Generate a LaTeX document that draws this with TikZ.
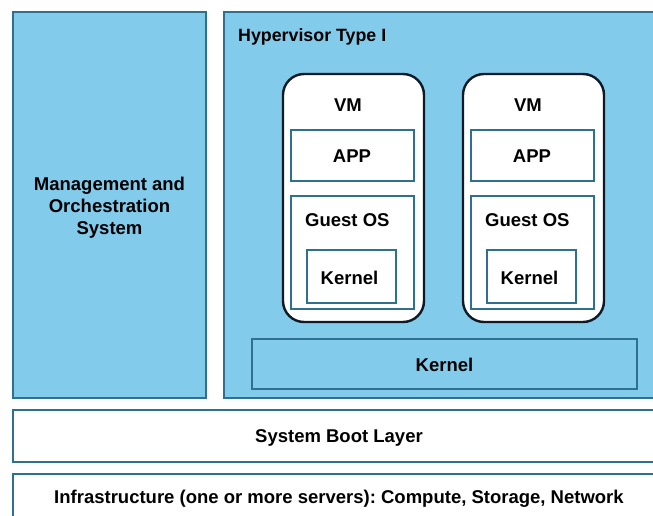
\documentclass[tikz,border=0pt]{standalone}
\usepackage{fontspec}
\setmainfont{Liberation Sans}
\frenchspacing
\begin{document}
\begin{tikzpicture}[x=1pt,y=-1pt,
  every node/.style={font=\bfseries\fontsize{18.5}{22}\selectfont, text=black, inner sep=0pt},
  layer/.style={draw=edgeblue, line width=1.3pt},
  bluebox/.style={layer, fill=skyfill},
  whitebox/.style={layer, fill=white},
  vmbox/.style={draw=vmedge, line width=2.4pt, fill=white, rounded corners=21pt},
  innerbox/.style={draw=edgeblue, line width=1.1pt, fill=white},
]
\definecolor{skyfill}{HTML}{83CBEB}
\definecolor{edgeblue}{HTML}{2F6F8F}
\definecolor{vmedge}{HTML}{0E1A26}
\path[use as bounding box] (0,0) rectangle (653,516);
\begin{scope}
\clip (0,0) rectangle (653,516);
\fill[white] (0,0) rectangle (653,516);

% management column
\draw[bluebox] (13,12) rectangle (206,398);
\node[align=center] (mgmt) at (109.5,207.5) {Management and\\Orchestration\\System};

% hypervisor area
\draw[bluebox] (224,12) rectangle (665,398);
\node[anchor=west, font=\bfseries\fontsize{17.8}{20}\selectfont] (hyp) at (238,36.5) {Hypervisor Type I};

% two virtual machines
\foreach \vx/\name in {283/a,463/b}{
  \draw[vmbox] (\vx,74) rectangle ++(141,248);
  \node (vm\name) at (\vx+65,105) {VM};
  \draw[innerbox] (\vx+8,130) rectangle ++(123,51);
  \node (app\name) at (\vx+69,156) {APP};
  \draw[innerbox] (\vx+8,196) rectangle ++(123,113);
  \node[anchor=west] (gos\name) at (\vx+22,220) {Guest OS};
  \draw[innerbox] (\vx+24,250) rectangle ++(89,53);
  \node (gk\name) at (\vx+66.5,278) {Kernel};
}

% hypervisor kernel
\draw[layer] (252,339) rectangle (637,389);
\node (hk) at (444.5,364.5) {Kernel};

% lower layers
\draw[whitebox] (13,410) rectangle (665,462);
\node (boot) at (339,437.5) {System Boot Layer};
\draw[whitebox] (13,474) rectangle (665,530);
\node (infra) at (339,499) {Infrastructure (one or more servers): Compute, Storage, Network};
\end{scope}
\end{tikzpicture}
\end{document}
